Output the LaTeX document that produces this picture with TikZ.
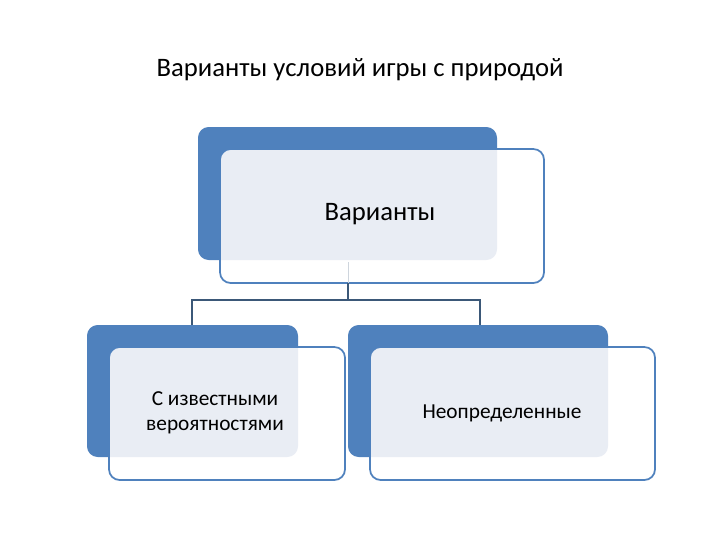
\documentclass[tikz,border=0pt]{standalone}
\usepackage{fontspec}
\setmainfont{Carlito}
\definecolor{bblue}{HTML}{4F81BD}
\definecolor{light}{HTML}{E9EDF4}
\definecolor{conn}{HTML}{3B5878}
\tikzset{back/.style={fill=bblue,rounded corners=8pt},
 frontbox/.style={draw=bblue,line width=1.3pt,rounded corners=8pt},
 lbl/.style={font=\fontsize{16}{19}\selectfont,align=center}}
\begin{document}
\begin{tikzpicture}[x=0.75pt,y=-0.75pt]
\useasboundingbox (0,0) rectangle (720,540);
\node[font=\fontsize{20}{24}\selectfont] (title) at (360,70) {Варианты условий игры с природой};
% connectors
\coordinate (top) at (348,260);
\coordinate (j) at (348,300);
\coordinate (l) at (192,325);
\coordinate (r) at (480,325);
\draw[conn,line width=1pt] (top) -- (j) -- ++(-156,0) -- (l);
\draw[conn,line width=1pt] (j) -- ++(132,0) -- (r);
% boxes
\foreach \n/\bx/\by/\bw/\bh in {A/198/127/299/133, B/87/325/211/132, C/348/325/260/132}{
  \fill[back] (\bx,\by) rectangle ++(\bw,\bh);
  \fill[white,rounded corners=8pt] (\bx+22,\by+22) rectangle ++(\bw+25,\bh+1);
  \begin{scope}
    \clip[rounded corners=8pt] (\bx,\by) rectangle ++(\bw,\bh);
    \fill[light,rounded corners=8pt] (\bx+22,\by+22) rectangle ++(\bw+25,\bh+1);
  \end{scope}
  \draw[frontbox] (\bx+22,\by+22) rectangle ++(\bw+25,\bh+1);
}
\draw[conn!25,line width=0.6pt] (348,283) -- (348,262);
\draw[conn,line width=1pt] (348,283) -- (j);
\node[font=\fontsize{20}{24}\selectfont] (va) at (380,214) {Варианты};
\node[lbl] (kn) at (215,413) {С известными\\вероятностями};
\node[lbl] (un) at (502,413) {Неопределенные};
\end{tikzpicture}
\end{document}
